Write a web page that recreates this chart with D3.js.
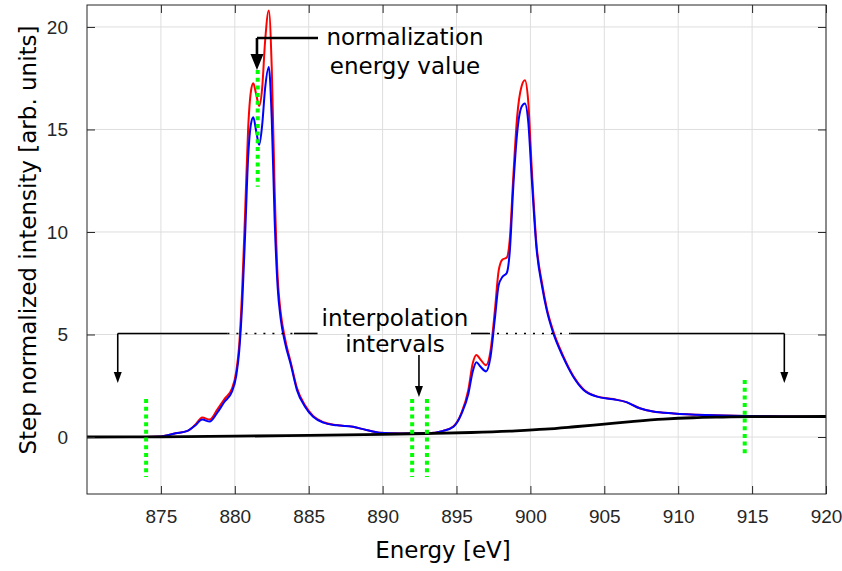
<!DOCTYPE html>
<html lang="en">
<head>
    <meta charset="UTF-8">
    <title>Step normalized XAS</title>
    <script src="https://d3js.org/d3.v7.min.js"></script>
    <style>
        body { margin: 0; background: #fff; }
        svg { display: block; }
    </style>
</head>
<body>
    <svg id="chart" width="842" height="571"></svg>

    <script>
        // energies [eV] shared by the two spectra
        const energy = [870.0, 873.0, 875.0, 876.0, 876.8, 877.3, 877.8, 878.3, 878.8, 879.3, 879.8,
            880.1, 880.3, 880.5, 880.7, 880.9, 881.1, 881.25, 881.45, 881.65, 881.85, 882.05, 882.3,
            882.5, 882.7, 882.9, 883.1, 883.4, 883.8, 884.2, 884.75, 885.3, 886.0, 886.9, 888.0,
            888.9, 889.8, 891.2, 893.0, 894.1, 894.8, 895.35, 895.8, 896.1, 896.35, 896.6, 897.0,
            897.3, 897.6, 897.85, 898.1, 898.4, 898.6, 898.85, 899.1, 899.4, 899.63, 899.85, 900.1,
            900.4, 900.8, 901.1, 901.55, 902.2, 902.9, 903.6, 904.5, 905.6, 906.5, 907.4, 908.3,
            909.7, 911.9, 914.6, 917.0, 920.0];

        const redValues = [0.0, 0.0, 0.03, 0.18, 0.3, 0.58, 0.95, 0.85, 1.32, 1.85, 2.35,
            3.2, 4.5, 7.2, 11.0, 15.0, 16.9, 17.25, 16.7, 16.15, 17.0, 19.3, 20.8,
            18.0, 12.0, 7.8, 6.1, 4.8, 3.6, 2.4, 1.55, 1.03, 0.72, 0.58, 0.5,
            0.34, 0.21, 0.17, 0.18, 0.3, 0.52, 1.2, 2.3, 3.6, 4.0, 3.8, 3.5,
            4.2, 6.2, 8.1, 8.65, 8.75, 9.6, 12.8, 15.6, 17.1, 17.4, 16.4, 13.0,
            9.5, 7.45, 6.3, 5.15, 3.98, 2.98, 2.32, 1.98, 1.85, 1.7, 1.4, 1.24,
            1.15, 1.07, 1.02, 1.0, 0.97];

        const blueValues = [0.0, 0.0, 0.03, 0.18, 0.3, 0.55, 0.85, 0.75, 1.17, 1.72, 2.2,
            3.0, 4.2, 6.5, 9.9, 13.6, 15.3, 15.6, 14.9, 14.25, 15.2, 17.0, 18.05,
            15.5, 10.5, 7.3, 5.8, 4.6, 3.5, 2.3, 1.48, 0.99, 0.7, 0.57, 0.5,
            0.34, 0.21, 0.17, 0.18, 0.3, 0.5, 1.15, 2.1, 3.2, 3.65, 3.45, 3.2,
            3.9, 5.8, 7.4, 7.8, 8.0, 9.0, 12.3, 14.8, 16.1, 16.27, 15.4, 12.5,
            9.3, 7.3, 6.2, 5.06, 3.92, 2.94, 2.29, 1.97, 1.84, 1.7, 1.4, 1.24,
            1.15, 1.07, 1.02, 1.0, 0.97];

        // step background
        const stepEnergy = [870, 875, 880, 885, 890, 893, 896, 899, 901, 903, 905, 907, 909, 911, 913, 915, 920];
        const stepValues = [0, 0.01, 0.04, 0.08, 0.13, 0.17, 0.22, 0.3, 0.38, 0.5, 0.63, 0.76, 0.87, 0.94, 0.97, 0.99, 1.0];

        const xTicks = [875, 880, 885, 890, 895, 900, 905, 910, 915, 920];
        const yTicks = [0, 5, 10, 15, 20];

        // green dotted markers: energy, bottom, top
        const markerEnergy = [881.55, 874.0, 892.0, 893.0, 914.5];
        const markerLow = [12.2, -1.95, -1.95, -1.95, -0.93];
        const markerHigh = [17.9, 1.85, 1.85, 1.85, 2.78];

        const svg = d3.select("#chart");
        const margin = { left: 87, top: 5, right: 16, bottom: 77 };
        const width = 842 - margin.left - margin.right;
        const height = 571 - margin.top - margin.bottom;

        const x = d3.scaleLinear().domain([870, 920]).range([0, width]);
        const y = d3.scaleLinear().domain([-2.78, 21.07]).range([height, 0]);

        const g = svg.append("g").attr("transform", `translate(${margin.left},${margin.top})`);

        // grid
        g.selectAll(".gx").data(xTicks).enter().append("line")
            .attr("x1", d => x(d)).attr("x2", d => x(d))
            .attr("y1", 0).attr("y2", height)
            .style("stroke", "#dedede").style("stroke-width", 1);
        g.selectAll(".gy").data(yTicks).enter().append("line")
            .attr("x1", 0).attr("x2", width)
            .attr("y1", d => y(d)).attr("y2", d => y(d))
            .style("stroke", "#dedede").style("stroke-width", 1);

        // spectra
        const line = d3.line().x(d => x(d[0])).y(d => y(d[1])).curve(d3.curveMonotoneX);
        const redData = energy.map((e, i) => [e, redValues[i]]);
        const blueData = energy.map((e, i) => [e, blueValues[i]]);
        const stepData = stepEnergy.map((e, i) => [e, stepValues[i]]);

        g.append("path").datum(redData).attr("d", line)
            .style("fill", "none").style("stroke", "#ff0000").style("stroke-width", 2);
        g.append("path").datum(blueData).attr("d", line)
            .style("fill", "none").style("stroke", "#0000ff").style("stroke-width", 2);
        g.append("path").datum(stepData).attr("d", line)
            .style("fill", "none").style("stroke", "#000").style("stroke-width", 2.8);

        // annotations
        function seg(e1, v1, e2, v2, w, dash) {
            g.append("line")
                .attr("x1", x(e1)).attr("y1", y(v1)).attr("x2", x(e2)).attr("y2", y(v2))
                .style("stroke", "#000").style("stroke-width", w)
                .style("stroke-dasharray", dash || null);
        }
        function arrowHead(e, v, w, h) {
            const px = x(e), py = y(v);
            g.append("path")
                .attr("d", `M${px},${py} L${px - w / 2},${py - h} L${px + w / 2},${py - h} Z`)
                .style("fill", "#000");
        }

        // normalization energy value
        seg(885.63, 19.46, 881.5, 19.46, 2.6);
        seg(881.5, 19.46, 881.5, 18.5, 2.6);
        arrowHead(881.5, 17.9, 13, 16);

        // interpolation intervals
        const iy = 5.05;
        seg(872.08, iy, 879.5, iy, 1.6);
        seg(879.5, iy, 884.0, iy, 1.6, "2,7");
        seg(884.0, iy, 885.6, iy, 1.6);
        seg(895.98, iy, 897.13, iy, 1.6);
        seg(897.13, iy, 902.7, iy, 1.6, "2,7");
        seg(902.7, iy, 917.18, iy, 1.6);
        seg(872.08, iy, 872.08, 3.0, 1.6);
        seg(917.18, iy, 917.18, 3.0, 1.6);
        seg(892.46, 4.0, 892.46, 2.3, 1.6);
        arrowHead(872.08, 2.63, 8, 11);
        arrowHead(917.18, 2.63, 8, 11);
        arrowHead(892.46, 1.95, 8, 11);

        // green dotted markers
        g.selectAll(".mk").data(markerEnergy).enter().append("line")
            .attr("x1", d => x(d)).attr("x2", d => x(d))
            .attr("y1", (d, i) => y(markerHigh[i])).attr("y2", (d, i) => y(markerLow[i]))
            .style("stroke", "#00ff00").style("stroke-width", 4)
            .style("stroke-dasharray", "4,3.7");

        const note = g.append("g").style("font-family", "DejaVu Sans").style("font-size", "23px")
            .attr("text-anchor", "middle").style("fill", "#000");
        note.append("text").attr("x", 405 - margin.left).attr("y", 45 - margin.top).text("normalization");
        note.append("text").attr("x", 405 - margin.left).attr("y", 74 - margin.top).text("energy value");
        note.append("text").attr("x", 395 - margin.left).attr("y", 326 - margin.top).text("interpolation");
        note.append("text").attr("x", 395 - margin.left).attr("y", 352 - margin.top).text("intervals");

        // axes box and inward ticks
        g.append("rect").attr("width", width).attr("height", height)
            .style("fill", "none").style("stroke", "#262626").style("stroke-width", 1);

        const xAxis = d3.axisBottom(x).tickValues(xTicks).tickSize(-8).tickPadding(16);
        const xAxisTop = d3.axisTop(x).tickValues(xTicks).tickSize(-8).tickFormat("");
        const yAxis = d3.axisLeft(y).tickValues(yTicks).tickSize(-8).tickPadding(19);
        const yAxisRight = d3.axisRight(y).tickValues(yTicks).tickSize(-8).tickFormat("");

        [g.append("g").attr("transform", `translate(0,${height})`).call(xAxis),
         g.append("g").call(xAxisTop),
         g.append("g").call(yAxis),
         g.append("g").attr("transform", `translate(${width},0)`).call(yAxisRight)].forEach(a => {
            a.select(".domain").remove();
            a.selectAll(".tick line").style("stroke", "#262626");
            a.selectAll("text").style("font-family", "Liberation Sans, Arial")
                .style("font-size", "19px").style("fill", "#262626");
        });

        svg.append("text")
            .attr("x", 443).attr("y", 558)
            .attr("text-anchor", "middle")
            .style("font-family", "DejaVu Sans").style("font-size", "23px")
            .text("Energy [eV]");

        svg.append("text")
            .attr("transform", "translate(36,240) rotate(-90)")
            .attr("text-anchor", "middle")
            .style("font-family", "DejaVu Sans").style("font-size", "23px")
            .text("Step normalized intensity [arb. units]");
    </script>
</body>
</html>
